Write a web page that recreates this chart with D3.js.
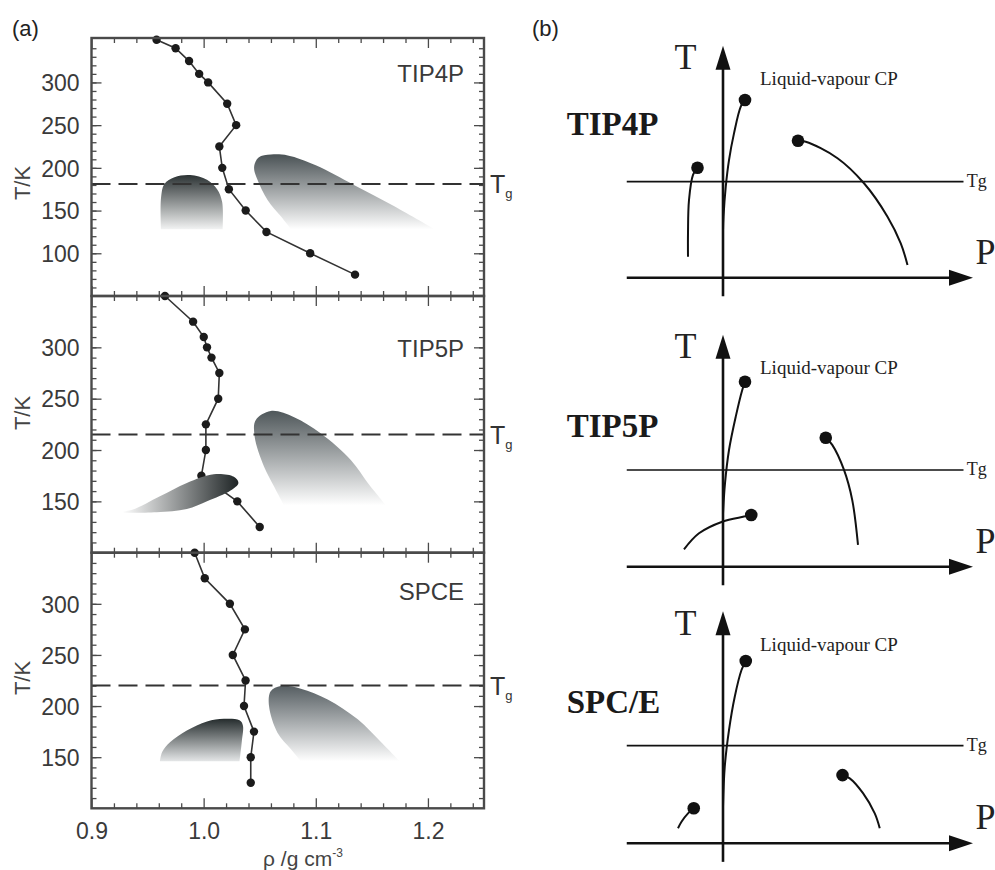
<!DOCTYPE html>
<html>
<head>
<meta charset="utf-8">
<script src="https://cdn.jsdelivr.net/npm/d3@7"></script>
<style>
  body { margin: 0; background: #fff; }
  svg { display: block; }
</style>
</head>
<body>
<svg id="chart"></svg>
<script>
const width = 995;
const height = 870;

// ---- panel (a) data: density (g/cm3) vs temperature (K) ----
const rhoTicks = [0.9, 1.0, 1.1, 1.2];
const modelNamesA = ["TIP4P", "TIP5P", "SPCE"];
const tip4pRho = [0.958, 0.975, 0.987, 0.996, 1.004, 1.021, 1.029, 1.014, 1.0166, 1.0225, 1.0375, 1.056, 1.095, 1.135];
const tip4pT   = [350, 340, 325, 310, 300, 275, 250, 225, 200, 175, 150, 125, 100, 75];
const tip5pRho = [0.9655, 0.9906, 1.0001, 1.003, 1.007, 1.014, 1.013, 1.002, 1.002, 0.998, 1.030, 1.050];
const tip5pT   = [350, 325, 310, 300, 290, 275, 250, 225, 200, 175, 150, 125];
const spceRho  = [0.992, 1.001, 1.0234, 1.0368, 1.026, 1.0374, 1.036, 1.0449, 1.042, 1.042];
const spceT    = [350, 325, 300, 275, 250, 225, 200, 175, 150, 125];
const tgA = [181, 215, 220];

// shaded regions [rho, T]
const tip4pLowRegion  = [[1.017,128],[1.0165,160],[1.012,175],[1.003,186],[0.988,191.5],[0.974,189],[0.965,181],[0.962,165],[0.962,128]];
const tip4pHighRegion = [[1.078,128],[1.069,143],[1.057,162.5],[1.048,186],[1.045,201],[1.049,212],[1.06,215.5],[1.075,214.5],[1.10,203],[1.134,180],[1.17,155],[1.206,128]];
const tip5pLowRegion  = [[0.927,139.5],[0.958,139.5],[0.985,142.5],[1.003,150],[1.024,160.5],[1.031,168],[1.027,174],[1.009,176.5],[0.985,168],[0.961,155],[0.937,142]];
const tip5pHighRegion = [[1.0717,146],[1.0628,164.5],[1.0538,184],[1.0455,213],[1.0464,229],[1.0598,238],[1.0807,232],[1.1046,216],[1.1314,190],[1.1464,168],[1.1628,146]];
const spceLowRegion   = [[1.032,146],[1.034,165],[1.035,181],[1.032,186],[1.018,187.5],[1.003,185],[0.985,176],[0.970,164.5],[0.963,155],[0.961,146]];
const spceHighRegion  = [[1.0867,146],[1.0777,158],[1.0658,174],[1.0583,200],[1.0598,214.5],[1.0688,219.5],[1.0867,217],[1.1106,206.5],[1.1374,187],[1.1583,164.5],[1.1747,146]];

// ---- panel (b) data: schematic P-T diagrams (normalised units) ----
const schemeNames = ["TIP4P", "TIP5P", "SPC/E"];
const tgB = [0.414, 0.417, 0.421];
const tip4pCP = [[0.088,0.766],[-0.102,0.474],[0.30,0.59]];
const tip4pBranches = [
  [[0.088,0.766],[0.071,0.737],[0.044,0.622],[0.024,0.507],[0.011,0.392],[0.002,0.263],[0,0.206]],
  [[-0.102,0.474],[-0.12,0.443],[-0.136,0.335],[-0.14,0.191],[-0.14,0.09]],
  [[0.30,0.59],[0.331,0.586],[0.458,0.515],[0.564,0.407],[0.658,0.263],[0.711,0.148],[0.738,0.055]]
];
const tip5pCP = [[0.088,0.797],[0.411,0.556],[0.113,0.223]];
const tip5pBranches = [
  [[0.088,0.797],[0.077,0.762],[0.051,0.647],[0.024,0.503],[0.008,0.359],[0,0.23]],
  [[0.411,0.556],[0.437,0.525],[0.484,0.417],[0.517,0.287],[0.54,0.094]],
  [[0.113,0.223],[0.084,0.216],[-0.003,0.194],[-0.096,0.144],[-0.156,0.075]]
];
const spceCP = [[0.091,0.786],[0.478,0.294],[-0.117,0.151]];
const spceBranches = [
  [[0.091,0.786],[0.074,0.747],[0.047,0.632],[0.024,0.488],[0.007,0.33],[0,0.158]],
  [[0.478,0.294],[0.507,0.28],[0.56,0.216],[0.607,0.129],[0.627,0.065]],
  [[-0.117,0.151],[-0.14,0.129],[-0.166,0.093],[-0.18,0.065]]
];

const svg = d3.select("#chart").attr("width", width).attr("height", height);
const defs = svg.append("defs");
const sans = "'Liberation Sans', Arial, sans-serif";
const serif = "'Liberation Serif', 'Times New Roman', serif";

function gradient(id, c0, c1, horizontal) {
  const g = defs.append("linearGradient").attr("id", id)
    .attr("x1", 0).attr("y1", 0)
    .attr("x2", horizontal ? 1 : 0).attr("y2", horizontal ? 0 : 1);
  g.append("stop").attr("offset", "0%").attr("stop-color", c0);
  g.append("stop").attr("offset", "100%").attr("stop-color", c1);
}
gradient("g4lo", "#2c3334", "#f2f3f3");
gradient("g4hi", "#4a5255", "#ffffff");
gradient("g5lo", "#ffffff", "#1f2526", true);
gradient("g5hi", "#4f575a", "#ffffff");
gradient("gslo", "#252c2d", "#e4e6e7");
gradient("gshi", "#565e62", "#ffffff");

// ---------------- panel (a) ----------------
const x = d3.scaleLinear().domain([0.9, 1.25]).range([91.5, 484]);
const panelsA = [
  { name: modelNamesA[0], rho: tip4pRho, T: tip4pT, tg: tgA[0], dom: [50, 352], top: 38, bottom: 296,
    regions: [[tip4pLowRegion, "g4lo", false], [tip4pHighRegion, "g4hi", false]], labelT: 300, kLabel: 183 },
  { name: modelNamesA[1], rho: tip5pRho, T: tip5pT, tg: tgA[1], dom: [100, 350], top: 296, bottom: 552.7,
    regions: [[tip5pLowRegion, "g5lo", true], [tip5pHighRegion, "g5hi", false]], labelT: 291, kLabel: 413 },
  { name: modelNamesA[2], rho: spceRho, T: spceT, tg: tgA[2], dom: [100, 350], top: 552.7, bottom: 808.3,
    regions: [[spceLowRegion, "gslo", false], [spceHighRegion, "gshi", false]], labelT: 304, kLabel: 678 }
];

const gA = svg.append("g");
const frameColor = "#4a4a4a";

panelsA.forEach((p, i) => {
  const y = d3.scaleLinear().domain(p.dom).range([p.bottom, p.top]);
  const g = gA.append("g");
  const inner = v => v > p.dom[0] + 4 && v < p.dom[1] - 4;
  const minorT = d3.range(60, 351, 10).filter(inner);
  const majorT = d3.range(100, 351, 50).filter(inner);
  const minorX = d3.range(0.92, 1.25, 0.02).filter(v => Math.abs(v * 10 - Math.round(v * 10)) > 0.01);

  function addAxis(axis, tx, ty) {
    const a = g.append("g").attr("transform", `translate(${tx},${ty})`).call(axis);
    a.select(".domain").remove();
    a.selectAll("line").attr("stroke", frameColor).attr("stroke-width", 1.3);
    return a;
  }
  // y ticks: left (labelled) and right
  const left = addAxis(d3.axisLeft(y).tickValues(majorT).tickSize(-10).tickPadding(12), 91.5, 0);
  left.selectAll("text").attr("font-family", sans).attr("font-size", 23).attr("fill", "#3a3a3a").attr("dy", "0.36em");
  addAxis(d3.axisLeft(y).tickValues(minorT).tickSize(-5).tickFormat(""), 91.5, 0);
  addAxis(d3.axisRight(y).tickValues(majorT).tickSize(-10).tickFormat(""), 484, 0);
  addAxis(d3.axisRight(y).tickValues(minorT).tickSize(-5).tickFormat(""), 484, 0);
  // x ticks: top and bottom of each panel
  addAxis(d3.axisTop(x).tickValues(rhoTicks).tickSize(-10).tickFormat(""), 0, p.top);
  addAxis(d3.axisTop(x).tickValues(minorX).tickSize(-5).tickFormat(""), 0, p.top);
  const bot = addAxis(d3.axisBottom(x).tickValues(rhoTicks).tickSize(-10).tickPadding(14)
    .tickFormat(i === 2 ? d3.format(".1f") : ""), 0, p.bottom);
  bot.selectAll("text").attr("font-family", sans).attr("font-size", 23).attr("fill", "#3a3a3a");
  addAxis(d3.axisBottom(x).tickValues(minorX).tickSize(-5).tickFormat(""), 0, p.bottom);

  // density curve with markers
  const pts = p.rho.map((r, k) => [r, p.T[k]]);
  g.append("path").datum(pts)
    .attr("d", d3.line().x(d => x(d[0])).y(d => y(d[1])))
    .attr("fill", "none").attr("stroke", "#333").attr("stroke-width", 1.6);
  g.selectAll("circle.pt").data(pts).join("circle").attr("class", "pt")
    .attr("cx", d => x(d[0])).attr("cy", d => y(d[1])).attr("r", 4.2).attr("fill", "#1b1b1b");

  // shaded regions
  p.regions.forEach(([region, grad, closed]) => {
    const line = d3.line().x(d => x(d[0])).y(d => y(d[1]))
      .curve(closed ? d3.curveCatmullRomClosed : d3.curveCatmullRom.alpha(0.5));
    g.append("path").attr("d", line(region) + (closed ? "" : "Z"))
      .attr("fill", `url(#${grad})`).attr("stroke", "none");
  });

  // Tg dashed line
  g.append("line").attr("x1", x(0.9)).attr("x2", x(1.25)).attr("y1", y(p.tg)).attr("y2", y(p.tg))
    .attr("stroke", "#333").attr("stroke-width", 2).attr("stroke-dasharray", "19 8");
  const tg = g.append("text").attr("x", 490).attr("y", y(p.tg) + 9)
    .attr("font-family", sans).attr("font-size", 25).attr("fill", "#333");
  tg.append("tspan").text("T");
  tg.append("tspan").attr("font-size", 13).attr("dy", 5).text("g");

  // frame
  g.append("rect").attr("x", 91.5).attr("y", p.top).attr("width", 484 - 91.5).attr("height", p.bottom - p.top)
    .attr("fill", "none").attr("stroke", frameColor).attr("stroke-width", 2.4);

  // model name
  g.append("text").attr("x", 464).attr("y", y(p.labelT))
    .attr("text-anchor", "end").attr("font-family", sans).attr("font-size", 24).attr("fill", "#3a3a3a")
    .text(p.name);

  // y label
  g.append("text").attr("transform", `translate(30,${p.kLabel}) rotate(-90)`)
    .attr("text-anchor", "middle").attr("font-family", sans).attr("font-size", 22).attr("fill", "#444")
    .text("T/K");
});

// x axis title
const xt = gA.append("text").attr("x", 303).attr("y", 866).attr("text-anchor", "middle")
  .attr("font-family", sans).attr("font-size", 21).attr("fill", "#444");
xt.append("tspan").text("ρ /g cm");
xt.append("tspan").attr("font-size", 12).attr("dy", -9).text("-3");

svg.append("text").attr("x", 12).attr("y", 36).attr("font-family", sans).attr("font-size", 22)
  .attr("fill", "#222").text("(a)");
svg.append("text").attr("x", 532).attr("y", 36).attr("font-family", sans).attr("font-size", 22)
  .attr("fill", "#222").text("(b)");

// ---------------- panel (b) ----------------
const xB = d3.scaleLinear().domain([0, 1]).range([723, 973]);
const pMin = -0.385, tMin = -0.08;
const panelsB = [
  { name: schemeNames[0], cp: tip4pCP, branches: tip4pBranches, tg: tgB[0], origin: 277.7, nameT: 0.615 },
  { name: schemeNames[1], cp: tip5pCP, branches: tip5pBranches, tg: tgB[1], origin: 566.7, nameT: 0.56 },
  { name: schemeNames[2], cp: spceCP, branches: spceBranches, tg: tgB[2], origin: 843.3, nameT: 0.56 }
];

panelsB.forEach(p => {
  const yB = d3.scaleLinear().domain([0, 1]).range([p.origin, p.origin - 232]);
  const g = svg.append("g");

  // axes
  g.append("line").attr("x1", xB(pMin)).attr("x2", xB(0.93)).attr("y1", yB(0)).attr("y2", yB(0))
    .attr("stroke", "#111").attr("stroke-width", 2.6);
  g.append("line").attr("x1", xB(0)).attr("x2", xB(0)).attr("y1", yB(tMin)).attr("y2", yB(0.93))
    .attr("stroke", "#111").attr("stroke-width", 2.6);
  g.append("path").attr("d", `M${xB(1)},${yB(0)} L${xB(1) - 24},${yB(0) - 8} L${xB(1) - 24},${yB(0) + 8} Z`)
    .attr("fill", "#111");
  g.append("path").attr("d", `M${xB(0)},${yB(1)} L${xB(0) - 7.5},${yB(1) + 24} L${xB(0) + 7.5},${yB(1) + 24} Z`)
    .attr("fill", "#111");

  // Tg line
  g.append("line").attr("x1", xB(pMin)).attr("x2", xB(0.962)).attr("y1", yB(p.tg)).attr("y2", yB(p.tg))
    .attr("stroke", "#111").attr("stroke-width", 1.6);
  g.append("text").attr("x", xB(0.975)).attr("y", yB(p.tg) + 5)
    .attr("font-family", serif).attr("font-size", 18).attr("fill", "#222").text("Tg");

  // branches and critical points
  const line = d3.line().x(d => xB(d[0])).y(d => yB(d[1])).curve(d3.curveCatmullRom.alpha(0.5));
  g.selectAll("path.branch").data(p.branches).join("path").attr("class", "branch")
    .attr("d", line).attr("fill", "none").attr("stroke", "#111").attr("stroke-width", 2);
  g.selectAll("circle.cp").data(p.cp).join("circle").attr("class", "cp")
    .attr("cx", d => xB(d[0])).attr("cy", d => yB(d[1])).attr("r", 6.3).attr("fill", "#111");

  // labels
  g.append("text").attr("x", xB(-0.15)).attr("y", yB(0.9)).attr("text-anchor", "middle")
    .attr("font-family", serif).attr("font-size", 36).attr("fill", "#222").text("T");
  g.append("text").attr("x", xB(1.01)).attr("y", yB(0) - 14)
    .attr("font-family", serif).attr("font-size", 36).attr("fill", "#222").text("P");
  g.append("text").attr("x", xB(0.148)).attr("y", yB(0.83))
    .attr("font-family", serif).attr("font-size", 19).attr("fill", "#222").text("Liquid-vapour CP");
  g.append("text").attr("x", xB(-0.625)).attr("y", yB(p.nameT))
    .attr("font-family", serif).attr("font-weight", "bold").attr("font-size", 33).attr("fill", "#1a1a1a")
    .text(p.name);
});
</script>
</body>
</html>
